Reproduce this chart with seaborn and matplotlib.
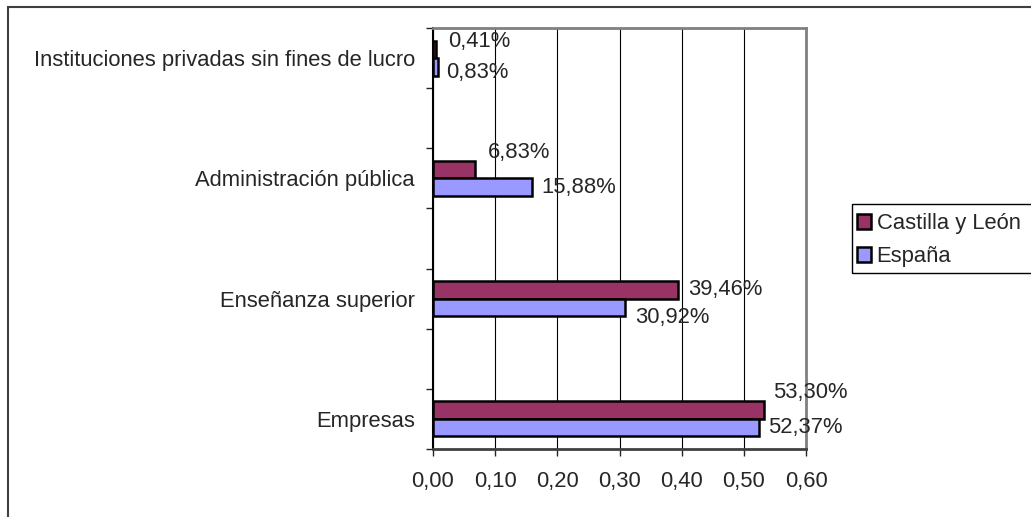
import pandas as pd
import numpy as np
import matplotlib
matplotlib.use("Agg")
import matplotlib.pyplot as plt
from matplotlib.patches import Rectangle, Patch
from matplotlib.ticker import FuncFormatter, FixedLocator
import seaborn as sns

# Data (shares of R&D spending by sector)
sectors = ["Instituciones privadas sin fines de lucro", "Administración pública",
           "Enseñanza superior", "Empresas"]
regions = ["Castilla y León", "España"]
castilla = [0.0041, 0.0683, 0.3946, 0.5330]
espana = [0.0083, 0.1588, 0.3092, 0.5237]
x_ticks = [0.0, 0.1, 0.2, 0.3, 0.4, 0.5, 0.6]

# label nudges (points) to mimic the Excel placement
nudge_y = {"Castilla y León": [6, 12, 0, 13], "España": [-4, 0, -7, 0]}
nudge_x = {"Castilla y León": [9, 9, 7, 6], "España": [6, 7, 7, 7]}

colors = {"Castilla y León": "#993366", "España": "#9999FF"}

df = pd.DataFrame({
    "sector": sectors * 2,
    "region": [regions[0]] * len(sectors) + [regions[1]] * len(sectors),
    "value": castilla + espana,
})

sns.set_style("white")
plt.rcParams["font.family"] = ["Liberation Sans", "DejaVu Sans"]
FS = 15.8

W, H = 1031, 517
fig = plt.figure(figsize=(W / 100, H / 100), dpi=100)
ax = fig.add_axes([433 / W, 1 - 449 / H, (806 - 433) / W, (449 - 28) / H])

sns.barplot(data=df, x="value", y="sector", hue="region", order=sectors,
            hue_order=regions, palette=colors, saturation=1, width=0.29,
            edgecolor="black", linewidth=1.8, orient="h", errorbar=None,
            legend=False, ax=ax)

# value labels
for region, cont in zip(regions, ax.containers):
    for i, bar in enumerate(cont):
        val = bar.get_width()
        yc = bar.get_y() + bar.get_height() / 2
        txt = f"{val * 100:.2f}%".replace(".", ",")
        ax.annotate(txt, (val, yc), xytext=(nudge_x[region][i], nudge_y[region][i]),
                    textcoords="offset points", ha="left", va="center", fontsize=FS)

ax.set_xlim(0, 0.6)
ax.set_ylim(3.25, -0.25)
ax.set_xticks(x_ticks)
ax.xaxis.set_major_formatter(FuncFormatter(lambda v, p: f"{v:.2f}".replace(".", ",")))
ax.yaxis.set_minor_locator(FixedLocator(np.arange(-0.25, 3.3, 0.5)))
ax.tick_params(axis="x", direction="out", length=5, width=1, pad=10.5, labelsize=FS, bottom=True)
ax.tick_params(axis="y", which="major", length=0, pad=13, labelsize=FS)
ax.tick_params(axis="y", which="minor", direction="out", length=5, width=1, left=True)
ax.set_xlabel("")
ax.set_ylabel("")

ax.xaxis.grid(True, color="black", linewidth=0.8)
ax.yaxis.grid(False)
ax.set_axisbelow(True)

ax.spines["left"].set_color("black")
ax.spines["left"].set_linewidth(1.5)
ax.spines["bottom"].set_color("#404040")
ax.spines["bottom"].set_linewidth(2)
for s in ["top", "right"]:
    ax.spines[s].set_color("#808080")
    ax.spines[s].set_linewidth(2)

# outer chart border (runs off the right and bottom edges)
fig.add_artist(Rectangle((8 / W, -0.1), 2, (1 - 7 / H) + 0.1, transform=fig.transFigure,
                         fill=False, edgecolor="#404040", linewidth=1.5))

# legend
fig.add_artist(Rectangle((852 / W, 1 - 273 / H), 1, (273 - 204) / H, transform=fig.transFigure,
                         fill=False, edgecolor="black", linewidth=1))
handles = [Patch(facecolor=colors[r], edgecolor="black", linewidth=1.8) for r in regions]
fig.legend(handles, regions, loc="upper left", bbox_to_anchor=(857 / W, 1 - 213 / H),
           frameon=False, borderpad=0, borderaxespad=0, handlelength=0.65,
           handleheight=0.65, handletextpad=0.25, labelspacing=0.55, fontsize=FS)

fig.savefig("out.png", dpi=100)
